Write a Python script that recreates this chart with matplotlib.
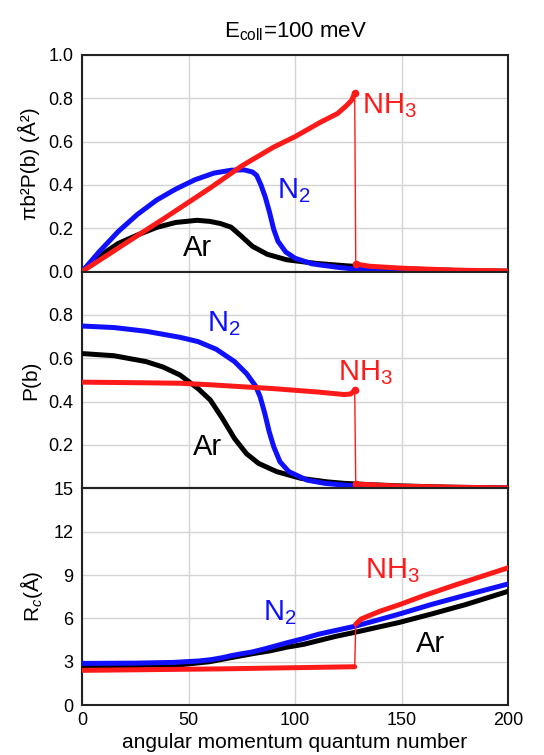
import matplotlib
matplotlib.use("Agg")
import matplotlib.pyplot as plt

plt.rcParams['font.family'] = ['Liberation Sans', 'DejaVu Sans']
plt.rcParams['mathtext.fontset'] = 'custom'
plt.rcParams['mathtext.rm'] = 'Liberation Sans'
plt.rcParams['mathtext.it'] = 'Liberation Sans:italic'

# ------ data ------
# top panel: pi b^2 P(b)  (A^2)
l_ar_top = [0, 8, 17, 26, 35, 44, 54, 60, 65, 70, 75, 80, 87, 96, 110, 124, 135, 150, 175, 200]
ar_top = [0, 0.07, 0.13, 0.169, 0.204, 0.227, 0.237, 0.232, 0.222, 0.205, 0.162, 0.117,
          0.08, 0.055, 0.038, 0.027, 0.02, 0.013, 0.006, 0.002]
l_n2_top = [0, 8, 17, 26, 35, 44, 53, 62, 70, 76, 80, 82, 84, 86, 88, 90, 92, 95.6,
            100, 108, 120, 130, 150, 200]
n2_top = [0, 0.091, 0.185, 0.264, 0.33, 0.381, 0.424, 0.455, 0.468, 0.47, 0.46, 0.444,
          0.40, 0.345, 0.275, 0.195, 0.14, 0.091, 0.062, 0.036, 0.02, 0.01, 0.003, 0.0]
l_nh3_top_a = [0, 20, 40, 60, 75, 90, 100, 112, 120, 124, 126.5, 128]
nh3_top_a = [0, 0.128, 0.255, 0.385, 0.488, 0.575, 0.623, 0.69, 0.73, 0.765, 0.79, 0.823]
l_nh3_top_b = [128.5, 135, 150, 175, 200]
nh3_top_b = [0.035, 0.025, 0.016, 0.007, 0.003]

# middle panel: P(b)
l_ar_mid = [0, 15, 30, 38, 46, 54.5, 60.2, 65.9, 71.6, 77.2, 82.9, 91.4, 102.8, 115,
            123, 135, 150, 175, 200]
ar_mid = [0.622, 0.612, 0.585, 0.56, 0.523, 0.46, 0.408, 0.323, 0.23, 0.16, 0.115,
          0.077, 0.046, 0.03, 0.023, 0.017, 0.011, 0.005, 0.002]
l_n2_mid = [0, 15, 30, 46, 54.5, 63, 71.6, 77.2, 81.5, 83.6, 85.8, 87.9, 90, 92.9,
            97.1, 105.6, 114, 123, 135, 150, 200]
n2_mid = [0.749, 0.742, 0.725, 0.697, 0.677, 0.642, 0.585, 0.53, 0.472, 0.423, 0.346,
          0.26, 0.192, 0.123, 0.077, 0.038, 0.023, 0.015, 0.008, 0.003, 0.0]
l_nh3_mid_a = [0, 30, 46, 60, 90, 110, 123, 126, 128]
nh3_mid_a = [0.49, 0.487, 0.485, 0.478, 0.46, 0.445, 0.433, 0.435, 0.452]
l_nh3_mid_b = [128.5, 140, 150, 175, 200]
nh3_mid_b = [0.02, 0.014, 0.01, 0.005, 0.002]

# bottom panel: Rc (A)
l_ar_bot = [0, 25, 47, 60, 70, 80, 88.6, 96, 104, 119, 128, 149, 164, 180, 200]
ar_bot = [2.72, 2.73, 2.8, 3.0, 3.28, 3.55, 3.76, 4.0, 4.2, 4.75, 5.03, 5.72, 6.3, 6.95, 7.87]
l_n2_bot = [0, 25, 43, 55, 61, 66, 70.5, 75, 79.5, 84, 88.6, 96, 104, 111, 119, 128,
            138, 149, 164, 180, 200]
n2_bot = [2.88, 2.9, 2.95, 3.05, 3.15, 3.28, 3.43, 3.55, 3.66, 3.82, 4.0, 4.3, 4.6,
          4.9, 5.16, 5.45, 5.85, 6.3, 6.96, 7.6, 8.38]
l_nh3_bot_a = [0, 64, 128]
nh3_bot_a = [2.4, 2.5, 2.65]
l_nh3_bot_b = [128.5, 131, 135, 140, 150, 160, 175, 200]
nh3_bot_b = [5.6, 5.95, 6.2, 6.5, 7.0, 7.55, 8.3, 9.5]

c_ar, c_n2, c_nh3 = 'black', '#1010ff', '#ff1a1a'
lw = 3.6

fig, axes = plt.subplots(3, 1, figsize=(5.44, 7.55), dpi=100, sharex=True)
fig.subplots_adjust(left=0.1507, right=0.934, top=0.9272, bottom=0.0662, hspace=0)
ax1, ax2, ax3 = axes


def draw(ax, ar, n2, nh3a, nh3b, dots):
    ax.plot(*ar, color=c_ar, lw=lw, solid_capstyle='round', solid_joinstyle='round', zorder=3)
    ax.plot(*n2, color=c_n2, lw=lw, solid_capstyle='round', solid_joinstyle='round', zorder=4)
    ax.plot(*nh3a, color=c_nh3, lw=lw, solid_capstyle='round', solid_joinstyle='round', zorder=5)
    ax.plot(*nh3b, color=c_nh3, lw=lw, solid_capstyle='round', solid_joinstyle='round', zorder=5)
    # thin jump line at l=128
    ax.plot([nh3a[0][-1], nh3b[0][0]], [nh3a[1][-1], nh3b[1][0]], color=c_nh3, lw=1, zorder=5)
    if dots:
        ax.plot([nh3a[0][-1], nh3b[0][0]], [nh3a[1][-1], nh3b[1][0]], 'o',
                color=c_nh3, ms=4.5, zorder=6)


draw(ax1, (l_ar_top, ar_top), (l_n2_top, n2_top),
     (l_nh3_top_a, nh3_top_a), (l_nh3_top_b, nh3_top_b), True)
draw(ax2, (l_ar_mid, ar_mid), (l_n2_mid, n2_mid),
     (l_nh3_mid_a, nh3_mid_a), (l_nh3_mid_b, nh3_mid_b), True)
draw(ax3, (l_ar_bot, ar_bot), (l_n2_bot, n2_bot),
     (l_nh3_bot_a, nh3_bot_a), (l_nh3_bot_b, nh3_bot_b), False)

ax1.set_ylim(0, 1.0)
ax1.set_yticks([0, 0.2, 0.4, 0.6, 0.8, 1.0])
ax1.set_yticklabels(['0.0', '0.2', '0.4', '0.6', '0.8', '1.0'])
ax2.set_ylim(0, 1.0)
ax2.set_yticks([0.2, 0.4, 0.6, 0.8])
ax2.set_yticklabels(['0.2', '0.4', '0.6', '0.8'])
ax3.set_ylim(0, 15)
ax3.set_yticks([0, 3, 6, 9, 12, 15])
ax3.set_xlim(0, 200)
ax3.set_xticks([0, 50, 100, 150, 200])

for ax in axes:
    ax.grid(True, color='#d4d4d4', lw=1)
    ax.set_axisbelow(True)
    ax.tick_params(length=0, labelsize=13)
    ax.tick_params(axis='y', pad=6)
    ax.tick_params(axis='x', pad=5)
    for s in ax.spines.values():
        s.set_linewidth(1.5)
        s.set_color('#222222')

ax1.set_ylabel('πb²P(b) (Å²)', fontsize=15, labelpad=6)
ax2.set_ylabel('P(b)', fontsize=15, labelpad=6)
ax3.set_ylabel('R$_c$(Å)', fontsize=15, labelpad=6)
ax3.set_xlabel('angular momentum quantum number', fontsize=15, labelpad=3)
ax1.set_title('E$_{\\mathrm{coll}}$=100 meV', fontsize=16, pad=13)

fs = 21
ax1.text(131.5, 0.73, 'NH$_3$', color=c_nh3, fontsize=fs)
ax1.text(91.5, 0.34, 'N$_2$', color=c_n2, fontsize=fs)
ax1.text(47.4, 0.07, 'Ar', color=c_ar, fontsize=fs)

ax2.text(120.3, 0.5, 'NH$_3$', color=c_nh3, fontsize=fs)
ax2.text(58.7, 0.726, 'N$_2$', color=c_n2, fontsize=fs)
ax2.text(52, 0.156, 'Ar', color=c_ar, fontsize=fs)

ax3.text(132.9, 8.8, 'NH$_3$', color=c_nh3, fontsize=fs)
ax3.text(85.1, 5.9, 'N$_2$', color=c_n2, fontsize=fs)
ax3.text(156.8, 3.7, 'Ar', color=c_ar, fontsize=fs)

fig.savefig('out.png', dpi=100)
